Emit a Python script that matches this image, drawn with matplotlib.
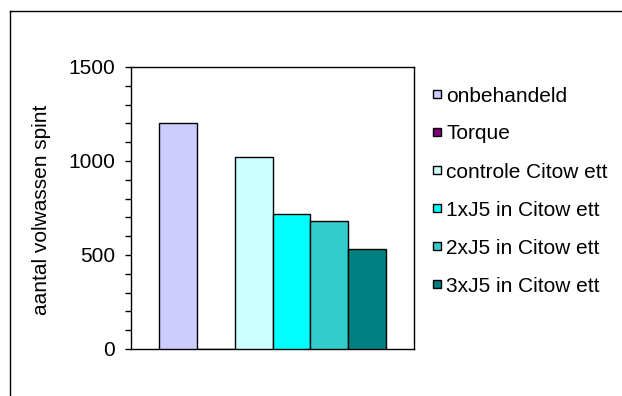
import matplotlib
matplotlib.use("Agg")
import matplotlib.pyplot as plt
from matplotlib.lines import Line2D
from matplotlib.patches import Rectangle
from matplotlib.ticker import MultipleLocator

# Treatments and counts of adult spider mites
series = ["onbehandeld", "Torque", "controle Citow ett",
          "1xJ5 in Citow ett", "2xJ5 in Citow ett", "3xJ5 in Citow ett"]
values = [1200, 0, 1020, 720, 680, 530]
colors = ["#CCCCFF", "#800080", "#CCFFFF", "#00FFFF", "#33CCCC", "#008080"]
y_ticks = [0, 500, 1000, 1500]
y_label = "aantal volwassen spint"

W, H = 622, 396
FS = 15
plt.rcParams["font.family"] = ["Liberation Sans", "DejaVu Sans"]
fig = plt.figure(figsize=(W / 100, H / 100), dpi=100)
fig.patch.set_facecolor("white")


def fx(px):
    return px / W


def fy(py):
    return 1 - py / H


# chart-area frame (runs off the right and bottom edges)
fig.add_artist(Line2D([fx(10), fx(10)], [-0.01, fy(11)],
                      transform=fig.transFigure, color="black", lw=1.0))
fig.add_artist(Line2D([fx(10), 1.01], [fy(11), fy(11)],
                      transform=fig.transFigure, color="black", lw=1.0))

ax = fig.add_axes([fx(131), fy(349), 283 / W, 282 / H])
for i, (name, v, c) in enumerate(zip(series, values, colors)):
    ax.bar(i, v, width=1.0, color=c, edgecolor="black", linewidth=1.0,
           label=name, zorder=3)

ax.set_xlim(-1.25, 6.25)
ax.set_ylim(0, 1500)
ax.set_yticks(y_ticks)
ax.set_yticklabels([str(t) for t in y_ticks], fontsize=FS)
ax.yaxis.set_minor_locator(MultipleLocator(100))
ax.tick_params(axis="y", which="both", direction="out", length=4, width=1,
               pad=7.5, colors="black")
ax.set_xticks([])
for s in ax.spines.values():
    s.set_color("black")
    s.set_linewidth(1.0)

fig.text(fx(42), fy(210), y_label, rotation=90, ha="center", va="center",
         fontsize=FS)

# legend: one row per series, square key followed by its name
row0, row_step = 94, 38
for i, (name, c) in enumerate(zip(series, colors)):
    yc = row0 + row_step * i
    fig.add_artist(Rectangle((fx(433), fy(yc + 4)), 8 / W, 8 / H,
                             transform=fig.transFigure, facecolor=c,
                             edgecolor="black", linewidth=1.0))
    fig.text(fx(446), fy(yc), name, ha="left", va="center_baseline",
             fontsize=FS)

fig.savefig("out.png", dpi=100, facecolor="white")
